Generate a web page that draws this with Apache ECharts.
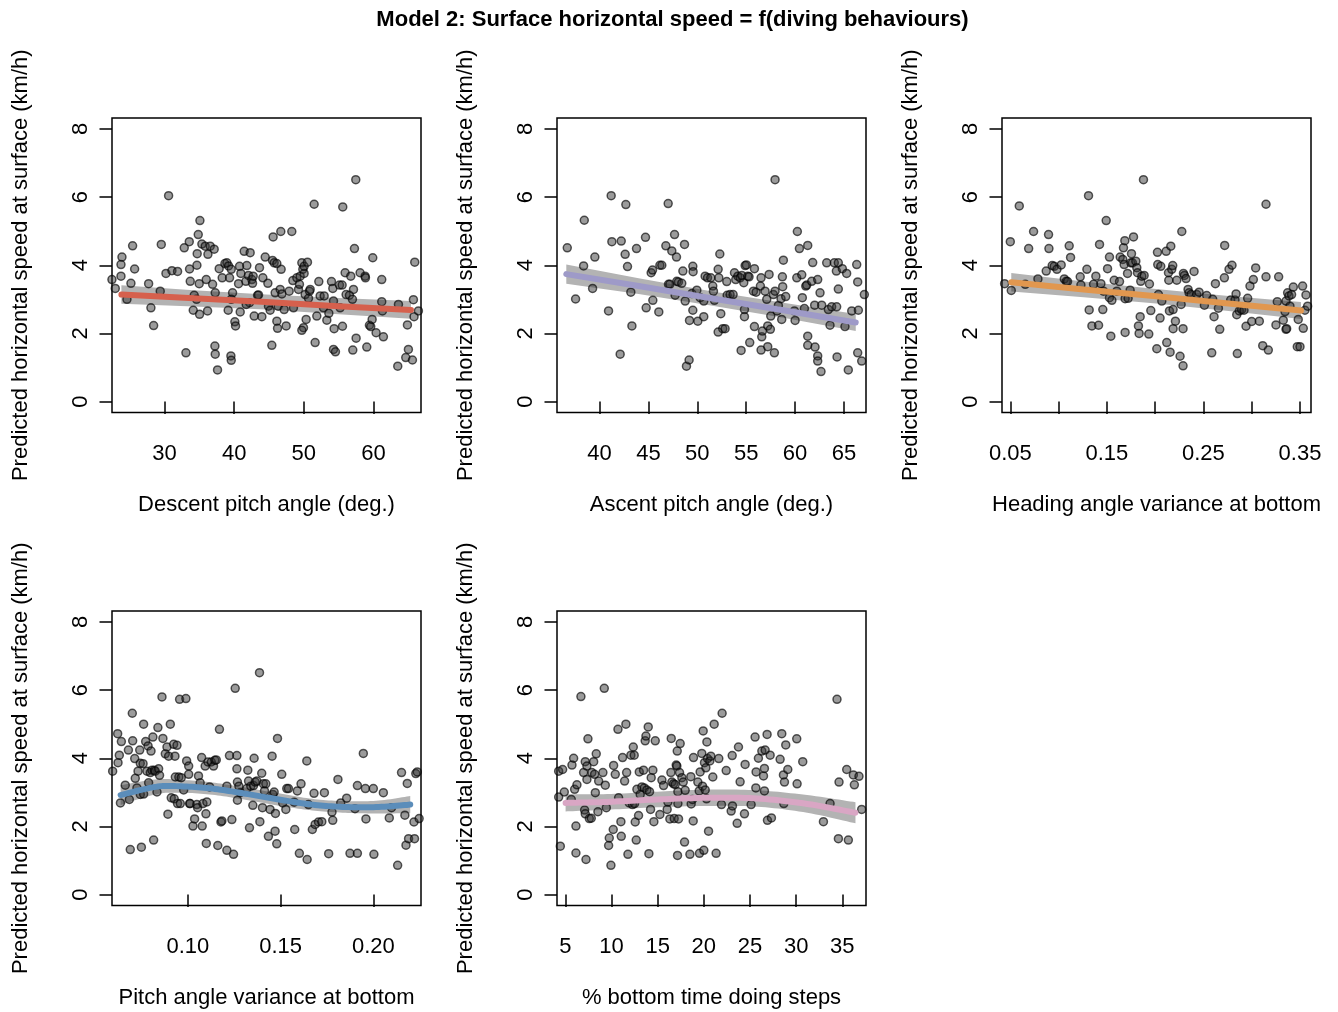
<!DOCTYPE html>
<html><head><meta charset="utf-8">
<script src="https://cdn.jsdelivr.net/npm/echarts@6/dist/echarts.min.js"></script>
<style>html,body{margin:0;padding:0;background:#fff}#c{width:1338px;height:1012px}</style>
</head><body><div id="c"></div>
<script>
const FONT = '"Liberation Sans", Arial, Helvetica, sans-serif';
const mainTitle = 'Model 2: Surface horizontal speed = f(diving behaviours)';
const yTitle = 'Predicted horizontal speed at surface (km/h)';
const xTitles = ['Descent pitch angle (deg.)', 'Ascent pitch angle (deg.)', 'Heading angle variance at bottom', 'Pitch angle variance at bottom', '% bottom time doing steps'];
const yTicks = [0, 2, 4, 6, 8];
const yRange = [-0.32, 8.32];

// Panel 1: descent pitch angle
const p1Range = [22.45, 66.84];
const p1Ticks = [30, 40, 50, 60];
const p1Labels = [30, 40, 50, 60];
const p1X = [22.44,22.92,23.74,23.74,23.88,24.60,25.17,25.41,25.70,27.71,28.04,28.43,29.38,29.53,30.20,30.58,31.06,31.87,32.83,33.07,33.55,33.59,33.69,34.26,34.12,34.65,34.69,34.84,34.98,35.08,34.60,35.03,35.36,35.84,35.99,36.23,36.56,36.90,37.13,37.28,36.18,37.23,37.28,37.61,37.85,38.28,38.67,38.95,39.19,39.34,39.58,39.77,39.14,39.58,40.10,40.20,39.53,39.58,40.63,40.77,40.96,40.87,41.44,41.68,41.82,42.06,42.30,42.21,41.73,42.54,42.64,42.73,42.88,43.36,43.50,43.64,43.98,44.12,44.46,44.84,44.93,45.17,45.51,45.60,45.75,45.89,46.13,46.32,46.13,46.23,46.61,46.75,46.70,46.85,45.41,47.18,47.47,47.90,48.28,48.43,48.52,49.00,49.24,49.38,49.48,49.72,49.86,50.05,50.20,50.05,50.53,50.34,49.96,49.72,50.68,50.82,50.92,51.49,51.63,51.87,52.16,52.35,52.83,52.93,53.31,53.60,53.98,54.17,54.27,54.27,54.55,54.36,55.13,55.22,55.51,55.56,55.60,55.94,56.08,56.56,56.75,56.99,57.14,57.04,57.28,57.47,57.52,58.09,58.81,58.86,59.05,59.43,59.62,59.82,59.91,60.39,61.20,61.20,61.30,61.44,63.50,63.60,64.65,64.89,65.03,65.61,65.75,65.84,65.94,66.47];
const p1Y = [3.58,3.32,3.68,4.02,4.24,3.00,3.47,4.57,3.89,3.46,2.75,2.23,3.24,4.61,3.76,6.04,3.84,3.82,4.51,1.43,4.69,3.89,3.53,3.12,2.68,4.00,4.34,4.90,3.46,5.31,3.00,2.56,4.62,4.56,3.58,4.32,4.56,3.44,4.47,3.19,2.66,1.63,1.39,0.93,3.90,3.63,4.05,4.07,3.98,3.63,3.88,3.19,2.68,3.00,2.34,2.22,1.34,1.21,3.46,3.97,3.76,2.63,4.41,3.53,3.99,3.70,4.37,2.90,2.85,3.58,3.47,3.68,2.51,3.12,3.13,3.93,2.49,3.63,4.24,3.47,2.80,2.68,4.14,4.83,4.07,3.19,4.05,2.80,2.36,2.15,3.29,3.88,4.99,3.16,1.65,2.70,2.22,3.24,4.99,3.55,2.75,3.63,3.29,3.44,3.68,4.07,3.88,3.76,3.14,3.97,4.09,2.41,2.17,2.09,3.03,3.24,3.29,5.79,1.73,2.51,3.52,3.10,2.75,3.10,2.39,2.59,3.52,3.32,2.95,1.53,1.46,2.14,3.42,2.75,3.42,2.21,5.71,3.78,3.14,3.12,3.68,3.00,3.29,1.51,4.49,6.51,1.86,3.78,3.68,3.63,1.60,2.24,2.20,2.41,4.22,2.02,3.58,2.93,2.66,1.90,1.04,2.85,1.29,2.25,1.53,1.22,2.99,2.49,4.09,2.66];
const p1FitX = [23.8, 34.2, 44.6, 55.0, 65.4];
const p1FitY = [3.14, 3.03, 2.92, 2.80, 2.69];
const p1Half = [0.27, 0.24, 0.22, 0.24, 0.26];

// Panel 2: ascent pitch angle
const p2Range = [35.65, 67.25];
const p2Ticks = [40, 45, 50, 55, 60, 65];
const p2Labels = [40, 45, 50, 55, 60, 65];
const p2X = [36.70,37.55,38.37,38.44,39.29,39.52,40.92,41.19,41.26,42.11,42.22,42.62,42.69,42.86,43.20,43.31,43.78,44.70,44.77,45.28,45.42,45.45,46.06,46.17,46.37,46.78,47.02,47.05,47.19,47.39,47.67,47.73,47.87,47.90,48.07,48.41,48.52,48.69,48.76,48.89,49.16,49.20,49.44,49.54,49.54,49.57,49.95,50.05,50.29,50.66,50.66,50.80,51.04,51.38,51.58,51.65,51.75,52.13,52.20,52.30,52.40,52.13,52.60,52.84,53.01,53.05,53.35,53.66,53.80,53.93,54.14,54.38,54.48,54.55,54.75,54.89,55.02,55.16,55.29,55.36,54.82,54.82,55.74,55.84,55.84,56.01,56.45,56.52,56.52,56.59,56.66,56.93,57.10,57.20,57.20,57.34,57.47,57.51,57.78,57.88,57.95,57.95,58.16,58.29,58.56,58.63,58.70,58.73,58.80,59.04,59.93,60.00,60.17,60.23,60.44,60.68,60.74,60.95,61.09,61.19,61.29,61.29,61.29,61.70,61.80,62.04,62.00,62.31,62.31,62.31,62.55,62.65,62.72,63.23,63.57,63.40,63.74,64.01,64.25,64.22,64.29,64.42,64.42,64.83,65.10,65.27,65.44,65.79,66.30,66.40,66.40,66.47,66.81,67.08];
const p2Y = [4.51,3.01,3.98,5.32,3.32,4.24,2.66,6.04,4.69,1.39,4.71,4.32,5.78,3.96,3.21,2.22,4.49,4.82,2.75,3.78,3.86,2.97,2.63,4.00,4.00,4.57,5.81,3.44,3.44,4.42,4.90,3.12,4.24,3.53,3.51,3.47,3.83,4.61,2.95,1.04,1.22,2.38,3.17,2.68,3.97,3.81,3.27,2.36,3.05,2.49,2.95,3.68,3.63,3.63,3.39,3.24,2.97,3.88,3.63,4.33,2.58,2.04,2.14,2.14,3.52,3.12,3.14,3.14,3.78,3.58,3.68,3.63,1.50,3.70,3.49,3.99,4.01,3.68,3.66,1.73,2.70,2.49,3.24,3.90,2.20,3.21,3.39,3.63,1.51,1.90,2.07,3.24,3.00,2.22,1.61,3.73,2.12,2.51,3.14,1.43,3.24,6.51,2.66,2.82,3.02,2.41,3.66,3.37,4.15,3.08,2.66,2.38,3.63,4.99,4.49,3.72,3.05,2.73,3.39,3.42,1.92,1.65,4.58,3.53,4.08,1.60,2.83,3.58,1.34,1.19,3.19,0.88,2.83,4.07,2.24,2.70,2.78,4.07,2.78,3.83,1.31,4.07,3.30,3.90,2.20,3.76,0.93,2.66,4.02,3.51,1.43,2.68,1.19,3.14];
const p2FitX = [36.6, 44.0, 51.4, 58.8, 66.2];
const p2FitY = [3.74, 3.39, 3.03, 2.68, 2.32];
const p2Half = [0.28, 0.23, 0.21, 0.22, 0.25];

// Panel 3: heading angle variance at bottom
const p3Range = [0.0414, 0.3614];
const p3Ticks = [0.05, 0.10, 0.15, 0.20, 0.25, 0.30, 0.35];
const p3Labels = [0.05, 0.15, 0.25, 0.35];
const p3X = [0.0441,0.0500,0.0510,0.0593,0.0655,0.0690,0.0741,0.0786,0.0872,0.0896,0.0900,0.0934,0.0955,0.0983,0.1027,0.1059,0.1079,0.1093,0.1110,0.1124,0.1224,0.1231,0.1293,0.1310,0.1317,0.1345,0.1362,0.1386,0.1414,0.1424,0.1438,0.1458,0.1465,0.1493,0.1507,0.1527,0.1527,0.1552,0.1541,0.1576,0.1603,0.1631,0.1638,0.1665,0.1672,0.1679,0.1686,0.1689,0.1689,0.1714,0.1720,0.1741,0.1748,0.1755,0.1765,0.1776,0.1800,0.1810,0.1817,0.1827,0.1834,0.1845,0.1851,0.1862,0.1879,0.1886,0.1934,0.1941,0.1955,0.2017,0.2024,0.2027,0.2034,0.2051,0.2058,0.2069,0.2114,0.2120,0.2138,0.2141,0.2148,0.2155,0.2162,0.2172,0.2182,0.2186,0.2186,0.2210,0.2224,0.2258,0.2269,0.2276,0.2289,0.2289,0.2293,0.2303,0.2320,0.2341,0.2351,0.2372,0.2403,0.2431,0.2455,0.2510,0.2534,0.2586,0.2596,0.2610,0.2624,0.2655,0.2669,0.2717,0.2720,0.2765,0.2782,0.2796,0.2827,0.2838,0.2845,0.2851,0.2872,0.2896,0.2920,0.2941,0.2958,0.2982,0.3000,0.3017,0.3041,0.3079,0.3114,0.3148,0.3148,0.3172,0.3251,0.3265,0.3279,0.3327,0.3345,0.3355,0.3355,0.3362,0.3372,0.3386,0.3396,0.3413,0.3431,0.3472,0.3482,0.3500,0.3527,0.3534,0.3551,0.3562,0.3579];
const p3Y = [3.46,4.69,3.26,5.74,3.44,4.49,4.99,3.60,3.83,4.90,4.49,3.99,3.97,3.88,4.01,3.60,3.53,3.52,4.57,4.23,3.66,3.42,3.88,6.04,2.69,2.22,3.44,3.68,2.24,4.61,3.46,2.70,3.24,5.31,3.90,4.24,3.05,2.97,1.92,3.56,3.24,3.52,4.24,4.17,4.51,4.02,4.72,3.02,2.03,3.76,3.03,3.27,4.07,4.34,4.07,4.83,4.12,3.93,3.78,2.22,2.00,2.49,3.53,3.68,6.51,3.70,1.98,3.45,2.67,1.55,4.38,4.02,3.14,2.45,3.97,2.95,4.41,1.73,3.78,3.56,2.66,1.45,4.56,3.88,3.99,2.70,2.14,2.36,3.56,1.33,2.85,4.99,1.05,2.14,3.76,3.70,3.61,3.29,3.19,3.14,3.82,3.14,3.21,2.83,3.11,1.43,3.00,2.49,3.46,2.74,2.12,3.63,4.58,3.88,2.98,4.00,2.98,3.16,2.55,1.41,2.66,2.70,2.68,2.21,3.03,3.39,2.35,3.58,3.92,2.36,1.64,3.66,5.79,1.51,2.25,2.93,3.66,2.39,2.64,2.95,2.12,2.14,3.19,3.10,2.80,3.14,3.36,1.61,2.41,1.61,3.39,2.15,2.68,3.13,2.80];
const p3FitX = [0.051, 0.126, 0.201, 0.276, 0.351];
const p3FitY = [3.50, 3.29, 3.09, 2.88, 2.67];
const p3Half = [0.27, 0.23, 0.21, 0.22, 0.25];

// Panel 4: pitch angle variance at bottom
const p4Range = [0.05905, 0.2257];
const p4Ticks = [0.10, 0.15, 0.20];
const p4Labels = [0.10, 0.15, 0.20];
const p4X = [0.0594,0.0621,0.0623,0.0630,0.0636,0.0641,0.0662,0.0679,0.0684,0.0689,0.0700,0.0702,0.0713,0.0716,0.0725,0.0731,0.0740,0.0743,0.0743,0.0749,0.0758,0.0761,0.0761,0.0772,0.0779,0.0785,0.0788,0.0797,0.0801,0.0806,0.0811,0.0815,0.0819,0.0824,0.0833,0.0838,0.0842,0.0847,0.0860,0.0865,0.0878,0.0887,0.0892,0.0896,0.0905,0.0910,0.0923,0.0926,0.0930,0.0932,0.0941,0.0944,0.0951,0.0955,0.0959,0.0964,0.0977,0.0989,0.0993,0.1004,0.1004,0.1009,0.1012,0.1027,0.1036,0.1048,0.1052,0.1057,0.1066,0.1074,0.1077,0.1081,0.1093,0.1097,0.1099,0.1102,0.1108,0.1117,0.1126,0.1138,0.1145,0.1153,0.1161,0.1170,0.1178,0.1183,0.1210,0.1210,0.1224,0.1237,0.1246,0.1255,0.1264,0.1264,0.1267,0.1267,0.1275,0.1282,0.1318,0.1323,0.1327,0.1332,0.1339,0.1350,0.1354,0.1357,0.1363,0.1372,0.1386,0.1388,0.1398,0.1402,0.1407,0.1413,0.1420,0.1434,0.1443,0.1454,0.1458,0.1465,0.1470,0.1472,0.1479,0.1483,0.1506,0.1511,0.1528,0.1533,0.1542,0.1573,0.1576,0.1590,0.1601,0.1610,0.1641,0.1643,0.1650,0.1671,0.1680,0.1686,0.1704,0.1722,0.1736,0.1759,0.1777,0.1781,0.1809,0.1824,0.1856,0.1874,0.1901,0.1914,0.1914,0.1946,0.1957,0.1960,0.2000,0.2003,0.2054,0.2086,0.2098,0.2131,0.2152,0.2170,0.2176,0.2183,0.2190,0.2219,0.2222,0.2229,0.2237,0.2247];
const p4Y = [3.62,4.72,3.87,4.09,2.69,4.49,3.21,4.24,2.79,1.32,5.32,4.51,3.99,3.41,3.13,3.62,4.24,3.85,2.94,1.39,3.84,5.00,2.95,4.49,3.62,4.36,3.28,3.58,4.21,3.65,4.62,1.60,3.65,3.62,3.01,4.90,3.69,3.50,5.80,4.58,4.13,4.33,2.36,4.06,5.00,2.84,4.41,2.81,4.06,3.45,4.38,2.67,3.45,5.73,2.67,3.43,3.07,5.75,3.92,3.77,3.53,2.67,2.67,2.01,2.22,2.64,2.55,3.48,3.28,4.02,2.01,2.67,3.77,2.37,1.50,2.72,3.89,3.16,3.89,3.77,3.94,3.95,1.44,4.85,2.13,2.16,3.18,1.30,4.08,2.20,1.18,6.05,4.08,3.69,3.30,2.77,3.18,2.99,3.11,3.65,3.33,1.96,3.18,2.62,3.20,4.00,3.30,3.33,6.51,2.14,3.56,2.55,3.25,3.04,3.25,1.71,2.50,4.06,2.94,3.01,1.86,2.38,1.49,4.58,3.53,2.69,2.50,3.11,3.11,2.71,1.91,3.04,1.21,3.25,3.92,1.03,2.64,1.91,2.97,2.06,2.13,2.14,2.99,1.20,2.42,2.18,3.38,2.69,2.83,1.21,2.52,3.20,1.21,4.14,3.11,2.22,3.11,1.18,2.99,2.25,2.55,0.86,3.58,2.33,1.45,3.26,1.64,2.13,1.64,3.55,3.60,2.23];
const p4FitX = [0.0637, 0.0825, 0.0951, 0.1131, 0.1310, 0.1490, 0.1670, 0.1849, 0.2029, 0.2199];
const p4FitY = [2.92, 3.16, 3.18, 3.11, 2.96, 2.79, 2.64, 2.57, 2.57, 2.64];
const p4Half = [0.29, 0.22, 0.19, 0.18, 0.18, 0.18, 0.17, 0.17, 0.19, 0.25];

// Panel 5: % bottom time doing steps
const p5Range = [4.10, 37.56];
const p5Ticks = [5, 10, 15, 20, 25, 30, 35];
const p5Labels = [5, 10, 15, 20, 25, 30, 35];
const p5X = [4.28,4.28,4.46,4.71,4.89,5.65,5.72,5.90,6.01,6.15,6.15,6.26,6.69,6.98,7.09,7.16,7.16,7.24,7.34,7.34,7.45,7.60,7.81,7.88,8.07,8.17,8.25,8.35,8.53,8.61,9.07,9.22,9.33,9.44,9.69,9.76,9.94,10.19,10.23,10.41,10.70,10.77,11.02,11.06,11.20,11.42,11.56,11.64,11.78,11.92,12.10,12.28,12.36,12.46,12.50,12.57,12.68,12.75,12.93,13.01,13.11,13.29,13.47,13.55,13.65,13.73,13.83,13.98,14.05,14.12,14.23,14.30,14.48,14.59,14.74,15.24,15.46,15.64,16.03,16.11,16.32,16.43,16.54,16.47,16.72,16.79,16.90,17.01,17.08,17.12,17.19,17.19,17.15,17.26,17.37,17.44,17.62,17.77,17.91,17.98,18.49,18.59,18.63,18.77,18.85,18.88,19.35,19.50,19.53,19.60,19.78,19.86,19.93,20.00,20.07,20.15,20.22,20.29,20.33,20.40,20.51,20.65,20.76,20.97,21.12,21.33,21.62,21.91,21.98,22.42,22.96,23.07,23.10,23.61,23.75,23.93,24.40,24.47,25.12,25.55,25.66,25.63,25.91,26.28,26.46,26.56,26.56,26.64,26.85,26.89,27.18,27.32,28.26,28.44,28.62,28.66,28.73,28.87,29.09,30.06,30.10,30.71,32.95,33.67,34.42,34.57,34.64,35.47,35.65,36.19,36.30,36.80,37.09];
const p5Y = [3.62,2.86,1.42,3.67,3.01,2.79,3.80,4.00,3.09,2.01,1.22,3.22,5.81,3.58,2.48,3.90,2.37,1.03,3.77,3.38,4.57,2.23,2.24,3.58,3.90,3.53,2.99,4.13,2.43,3.33,3.58,6.05,3.21,2.55,1.44,1.66,0.86,1.91,3.79,3.53,4.85,2.84,2.14,1.71,4.02,3.33,5.00,3.58,1.18,2.69,4.09,2.64,4.33,4.09,2.67,2.13,1.60,3.09,2.32,3.60,2.94,3.16,3.65,3.13,4.51,4.65,3.07,4.92,1.20,3.02,2.50,3.43,3.65,2.14,4.51,2.35,3.36,3.20,2.50,2.72,2.22,3.58,3.30,4.58,3.25,2.23,3.23,3.80,3.77,4.21,3.02,2.67,1.15,2.22,3.58,4.43,3.43,3.30,1.54,3.06,1.18,3.46,2.66,2.79,2.16,4.02,3.30,3.04,1.21,3.60,4.14,3.18,4.80,1.30,3.87,3.07,3.72,2.81,4.48,3.99,1.86,3.92,4.06,3.45,5.00,1.21,3.99,2.64,5.32,3.64,2.45,4.08,2.60,2.09,4.33,3.31,2.37,3.82,2.64,4.62,3.60,3.13,4.00,4.21,3.48,3.70,3.04,4.24,4.70,2.18,4.09,2.25,3.97,4.72,3.51,2.67,3.30,4.39,3.67,4.57,3.25,3.90,2.14,2.67,5.73,1.64,3.30,3.67,1.60,3.51,3.22,3.47,2.50];
const p5FitX = [5.03, 9.54, 14.95, 20.37, 25.78, 31.19, 36.42];
const p5FitY = [2.69, 2.72, 2.79, 2.84, 2.82, 2.66, 2.40];
const p5Half = [0.25, 0.23, 0.23, 0.24, 0.24, 0.26, 0.31];

const lineColors = ['#d6604d', '#9e9ac8', '#e1974f', '#5b8dba', '#d9a6c4'];

const panels = [
  {range: p1Range, ticks: p1Ticks, labels: p1Labels, x: p1X, y: p1Y, fx: p1FitX, fy: p1FitY, h: p1Half, dec: 0, curved: false},
  {range: p2Range, ticks: p2Ticks, labels: p2Labels, x: p2X, y: p2Y, fx: p2FitX, fy: p2FitY, h: p2Half, dec: 0, curved: false},
  {range: p3Range, ticks: p3Ticks, labels: p3Labels, x: p3X, y: p3Y, fx: p3FitX, fy: p3FitY, h: p3Half, dec: 2, curved: false},
  {range: p4Range, ticks: p4Ticks, labels: p4Labels, x: p4X, y: p4Y, fx: p4FitX, fy: p4FitY, h: p4Half, dec: 2, curved: true},
  {range: p5Range, ticks: p5Ticks, labels: p5Labels, x: p5X, y: p5Y, fx: p5FitX, fy: p5FitY, h: p5Half, dec: 0, curved: true}
];
const gridPos = [[112, 118], [557, 118], [1002, 118], [112, 611], [557, 611]];
const GW = 309, GH = 294.5;

// Catmull-Rom smoothing of already-projected pixel points (rendering only)
function spline(pts, curved) {
  if (!curved) return pts;
  const out = [];
  const n = pts.length;
  for (let i = 0; i < n - 1; i++) {
    const p0 = pts[Math.max(i - 1, 0)], p1 = pts[i], p2 = pts[i + 1], p3 = pts[Math.min(i + 2, n - 1)];
    for (let s = 0; s < 12; s++) {
      const t = s / 12, t2 = t * t, t3 = t2 * t;
      out.push([0, 1].map(d => 0.5 * ((2 * p1[d]) + (-p0[d] + p2[d]) * t + (2 * p0[d] - 5 * p1[d] + 4 * p2[d] - p3[d]) * t2 + (-p0[d] + 3 * p1[d] - 3 * p2[d] + p3[d]) * t3)));
    }
  }
  out.push(pts[n - 1]);
  return out;
}

const grids = [], xAxes = [], yAxes = [], series = [], graphics = [];
panels.forEach((p, k) => {
  const [gl, gt] = gridPos[k];
  grids.push({left: gl, top: gt, width: GW, height: GH, show: true, borderColor: '#000', borderWidth: 1.5, backgroundColor: 'transparent'});
  xAxes.push({
    type: 'value', gridIndex: k, min: p.range[0], max: p.range[1],
    axisLine: {show: false}, splitLine: {show: false},
    axisTick: {show: true, inside: false, length: 12.5, lineStyle: {color: '#000', width: 1.5}, customValues: p.ticks},
    axisLabel: {customValues: p.labels, margin: 30, fontSize: 22, fontFamily: FONT, color: '#000',
      formatter: v => p.dec ? Number(v).toFixed(p.dec) : String(v)}
  });
  yAxes.push({
    type: 'value', gridIndex: k, min: yRange[0], max: yRange[1],
    axisLine: {show: false}, splitLine: {show: false},
    axisTick: {show: true, inside: false, length: 12.5, lineStyle: {color: '#000', width: 1.5}, customValues: yTicks},
    axisLabel: {customValues: yTicks, rotate: 90, margin: 20, fontSize: 22, fontFamily: FONT, color: '#000'}
  });
  // confidence band
  series.push({
    type: 'custom', xAxisIndex: k, yAxisIndex: k, silent: true, clip: true, z: 1,
    data: [[p.fx[0], p.fy[0]]],
    renderItem: (params, api) => {
      const up = spline(p.fx.map((x, i) => api.coord([x, p.fy[i] + p.h[i]])), p.curved);
      const lo = spline(p.fx.map((x, i) => api.coord([x, p.fy[i] - p.h[i]])), p.curved).reverse();
      return {type: 'polygon', shape: {points: up.concat(lo)}, style: {fill: '#b3b3b3'}};
    }
  });
  series.push({
    type: 'scatter', xAxisIndex: k, yAxisIndex: k, symbolSize: 8, clip: true,
    data: p.x.map((x, i) => [x, p.y[i]]),
    itemStyle: {color: 'rgba(45,45,45,0.6)', borderColor: 'rgba(0,0,0,0.8)', borderWidth: 1.5}, z: 2
  });
  // fitted curve
  series.push({
    type: 'custom', xAxisIndex: k, yAxisIndex: k, silent: true, clip: true, z: 3,
    data: [[p.fx[0], p.fy[0]]],
    renderItem: (params, api) => {
      const pts = spline(p.fx.map((x, i) => api.coord([x, p.fy[i]])), p.curved);
      return {type: 'polyline', shape: {points: pts}, style: {stroke: lineColors[k], lineWidth: 6, lineCap: 'round', lineJoin: 'round', fill: null}};
    }
  });
  graphics.push({type: 'text', x: gl + GW / 2, y: gt + 387,
    style: {text: xTitles[k], fontSize: 22, fontFamily: FONT, fill: '#000', align: 'center', verticalAlign: 'middle'}});
  graphics.push({type: 'text', x: gl - 91.5, y: gt + GH / 2, rotation: Math.PI / 2,
    style: {text: yTitle, fontSize: 22, fontFamily: FONT, fill: '#000', align: 'center', verticalAlign: 'middle'}});
});
graphics.push({type: 'text', x: 672.5, y: 20,
  style: {text: mainTitle, fontSize: 22, fontWeight: 'bold', fontFamily: FONT, fill: '#000', align: 'center', verticalAlign: 'middle'}});

const chart = echarts.init(document.getElementById('c'), null, {renderer: 'canvas'});
chart.setOption({
  animation: false,
  backgroundColor: '#fff',
  grid: grids, xAxis: xAxes, yAxis: yAxes, series: series, graphic: graphics
});
</script>
</body></html>
